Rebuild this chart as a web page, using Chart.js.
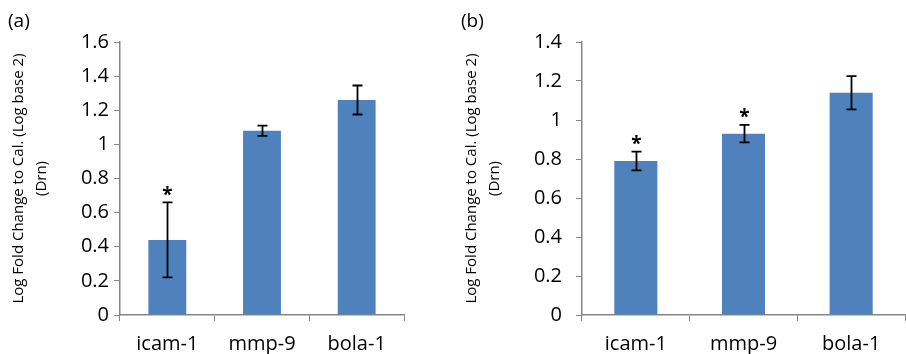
<!DOCTYPE html>
<html>
<head>
<meta charset="utf-8">
<script src="https://cdn.jsdelivr.net/npm/chart.js@4.4.1/dist/chart.umd.min.js"></script>
<style>
  body { margin: 0; background: #fff; }
  .panel { position: absolute; top: 0; height: 354px; }
  .tag { position: absolute; top: 7px; font: 19px "Open Sans", sans-serif; color: #000; }
</style>
</head>
<body>
<div class="panel" id="wrapA" style="left:0;width:440px"><canvas id="chartA"></canvas></div>
<div class="panel" id="wrapB" style="left:453px;width:453px"><canvas id="chartB"></canvas></div>
<div class="tag" style="left:8px">(a)</div>
<div class="tag" style="left:461px">(b)</div>
<script>
const categories = ['icam-1', 'mmp-9', 'bola-1'];

// panel (a)
const valuesA = [0.44, 1.08, 1.26];
const errorsA = [0.22, 0.03, 0.085];
const starsA = [true, false, false];
const yMaxA = 1.6;

// panel (b)
const valuesB = [0.79, 0.93, 1.14];
const errorsB = [0.048, 0.045, 0.085];
const starsB = [true, true, false];
const yMaxB = 1.4;

const yStep = 0.2;
const yTitle = ['Log Fold Change to Cal. (Log base 2)', '(Drn)'];

const FONT = '"Open Sans", sans-serif';
const BLUE = '#4f81bd';
const AXIS = '#868686';

// error bars + asterisks from the data through the scales
const errorBars = {
    id: 'errorBars',
    afterDatasetsDraw(chart, args, opts) {
        const ctx = chart.ctx;
        const y = chart.scales.y;
        const meta = chart.getDatasetMeta(0);
        const vals = chart.data.datasets[0].data;
        ctx.save();
        ctx.strokeStyle = '#000';
        ctx.lineWidth = 1.8;
        meta.data.forEach((bar, i) => {
            const top = y.getPixelForValue(vals[i] + opts.errors[i]);
            const bot = y.getPixelForValue(vals[i] - opts.errors[i]);
            const x = Math.round(bar.x) + 0.5;
            ctx.beginPath();
            ctx.moveTo(x, top); ctx.lineTo(x, bot);
            ctx.moveTo(x - 5, top); ctx.lineTo(x + 5, top);
            ctx.moveTo(x - 5, bot); ctx.lineTo(x + 5, bot);
            ctx.stroke();
            if (opts.stars[i]) {
                ctx.fillStyle = '#000';
                ctx.font = 'bold 19px ' + FONT;
                ctx.textAlign = 'center';
                ctx.textBaseline = 'middle';
                ctx.fillText('*', x, top - 7);
            }
        });
        ctx.restore();
    }
};

function makeChart(id, values, errors, stars, yMax, yWidth, tickPad, rightPad) {
    return new Chart(document.getElementById(id), {
        type: 'bar',
        data: {
            labels: categories,
            datasets: [{
                data: values,
                backgroundColor: BLUE,
                barPercentage: 0.4,
                categoryPercentage: 1
            }]
        },
        options: {
            responsive: true,
            maintainAspectRatio: false,
            animation: false,
            layout: { padding: { top: 42, right: rightPad, bottom: 0, left: 0 } },
            plugins: {
                legend: { display: false },
                tooltip: { enabled: false },
                errorBars: { errors: errors, stars: stars }
            },
            scales: {
                x: {
                    afterFit: s => { s.height = 39; },
                    grid: { offset: true, drawOnChartArea: false, color: AXIS, tickLength: 6 },
                    border: { color: AXIS, width: 1.5 },
                    ticks: { color: '#000', padding: 11, font: { family: FONT, size: 20 } }
                },
                y: {
                    min: 0,
                    max: yMax,
                    afterFit: s => { s.width = yWidth; },
                    grid: { drawOnChartArea: false, color: AXIS, tickLength: 6 },
                    border: { color: AXIS, width: 1.5 },
                    ticks: {
                        stepSize: yStep,
                        color: '#000',
                        padding: tickPad,
                        font: { family: FONT, size: 20 },
                        callback: v => String(Number(v.toFixed(1)))
                    },
                    title: {
                        display: true,
                        text: yTitle,
                        color: '#000',
                        font: { family: FONT, size: 15, lineHeight: 1.55 },
                        padding: { top: 7, bottom: 0 }
                    }
                }
            }
        },
        plugins: [errorBars]
    });
}

makeChart('chartA', valuesA, errorsA, starsA, yMaxA, 120, 5, 36);
makeChart('chartB', valuesB, errorsB, starsB, yMaxB, 129, 14, 1);
</script>
</body>
</html>
